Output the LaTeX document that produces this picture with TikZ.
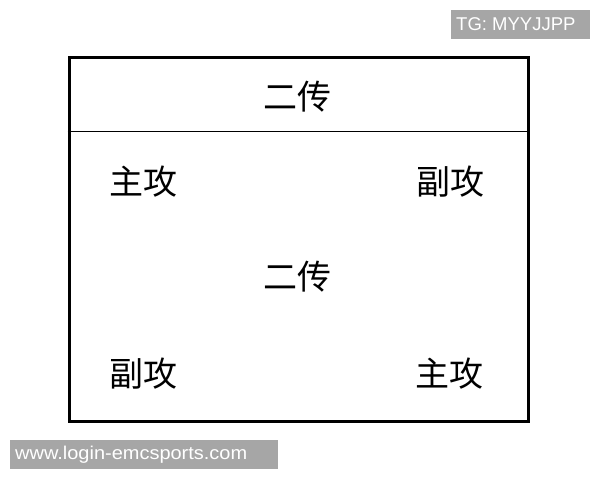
\documentclass[tikz,border=0pt]{standalone}
\usepackage{fontspec}
\setmainfont{Liberation Sans}
\newfontfamily\cjk{Noto Sans CJK SC}
\begin{document}
\begin{tikzpicture}[x=1pt,y=-1pt,
  lbl/.style={font=\cjk\fontsize{34}{40}\selectfont,inner sep=0pt,anchor=center},
  wm/.style={fill=black!35,inner sep=0pt,anchor=north west},
  wmtext/.style={text=white,font=\fontsize{18.5}{20}\selectfont,anchor=west,inner sep=0pt}]
\useasboundingbox (0,0) rectangle (600,480);
\node[draw=black,line width=3pt,minimum width=459pt,minimum height=364pt,inner sep=0pt,anchor=north west] (frame) at (67.5,55.5) {};
\coordinate (sl) at (67.5,131.5);
\coordinate (sr) at (526.5,131.5);
\draw[line width=1.2pt] (sl) -- (sr);
\node[lbl] (setter1) at (297,97) {二传};
\node[lbl] (oh1) at (143,181.5) {主攻};
\node[lbl] (mb1) at (450,181.5) {副攻};
\node[lbl] (setter2) at (297,277) {二传};
\node[lbl] (mb2) at (143,373.5) {副攻};
\node[lbl] (oh2) at (449.5,373.5) {主攻};
\node[wm,minimum width=139pt,minimum height=29pt] (tg) at (451,10) {};
\node[wmtext] (tgt) at (456,24.5) {TG: MYYJJPP};
\node[wm,minimum width=268pt,minimum height=29pt] (site) at (10,440) {};
\node[wmtext] (sitet) at (15,454.5) {\scalebox{1.08}[1]{www.login-emcsports.com}};
\end{tikzpicture}
\end{document}
